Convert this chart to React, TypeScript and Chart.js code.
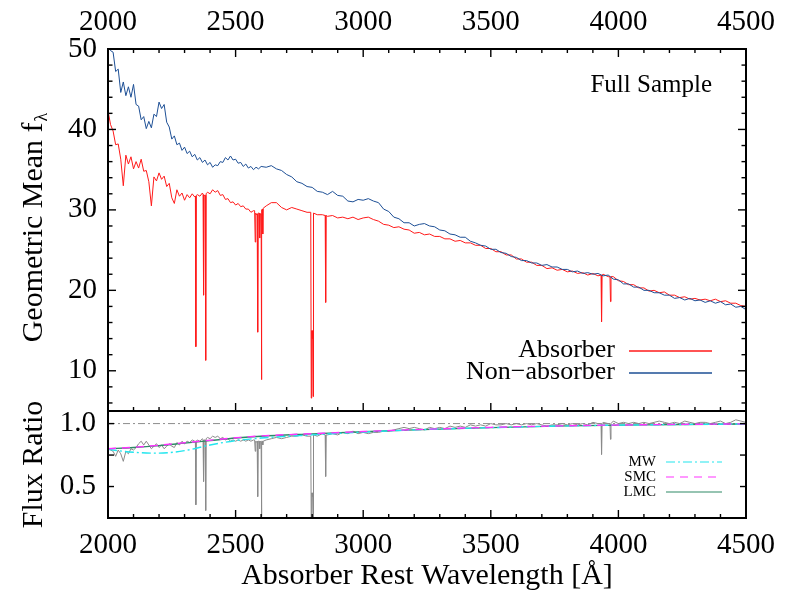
import React, { useEffect, useRef } from "react";
import { Chart, registerables } from "chart.js";

Chart.register(...registerables);

const FONT = "'Liberation Serif', 'Times New Roman', serif";
const RED = "#ff1a1a";
const BLUE = "#1d4f95";
const GRAY = "#8a8a8a";

// ---- wavelength grid (Å) ----
const gridWave = [
  2000, 2010, 2020, 2030, 2040, 2050, 2060, 2070, 2080, 2090,
  2100, 2110, 2120, 2130, 2140, 2150, 2160, 2170, 2180, 2190,
  2200, 2210, 2220, 2230, 2240, 2250, 2260, 2270, 2280, 2290,
  2300, 2310, 2320, 2330, 2340, 2350, 2360, 2370, 2380, 2390,
  2400, 2410, 2420, 2430, 2440, 2450, 2460, 2470, 2480, 2490,
  2500, 2510, 2520, 2530, 2540, 2550, 2560, 2570, 2580, 2590,
  2600,
  2620, 2640, 2660, 2680, 2700, 2720, 2740, 2760, 2780, 2800,
  2820, 2840, 2860, 2880, 2900, 2920, 2940, 2960, 2980, 3000,
  3020, 3040, 3060, 3080, 3100, 3120, 3140, 3160, 3180, 3200,
  3220, 3240, 3260, 3280, 3300, 3320, 3340, 3360, 3380, 3400,
  3420, 3440, 3460, 3480, 3500, 3520, 3540, 3560, 3580, 3600,
  3620, 3640, 3660, 3680, 3700, 3720, 3740, 3760, 3780, 3800,
  3820, 3840, 3860, 3880, 3900, 3920, 3940, 3960, 3980, 4000,
  4020, 4040, 4060, 4080, 4100, 4120, 4140, 4160, 4180, 4200,
  4220, 4240, 4260, 4280, 4300, 4320, 4340, 4360, 4380, 4400,
  4420, 4440, 4460, 4480, 4500,
];

// ---- Non-absorber geometric mean flux ----
const nonAbsorberFlux = [
  51.5, 49.8, 49.6, 47.2, 47.5, 44.6, 45.9, 44.2, 45.3, 44.0,
  45.6, 43.1, 42.9, 41.2, 41.6, 40.1, 41.0, 40.2, 41.9, 41.6,
  43.4, 42.6, 43.1, 40.9, 40.3, 38.8, 39.2, 38.1, 38.3, 37.4,
  37.8, 37.0, 37.3, 36.6, 36.9, 36.2, 36.5, 35.9, 36.2, 35.6,
  35.9, 35.3, 35.6, 35.5, 36.0, 35.9, 36.5, 36.2, 36.7, 36.2,
  36.3, 35.8, 35.9, 35.4, 35.7, 35.2, 35.4, 35.0, 35.3, 35.1,
  35.4,
  35.3, 35.5, 35.1, 34.9, 34.4, 34.1, 33.5, 33.3, 32.9, 32.8,
  32.3, 32.2, 31.9, 32.3, 31.8, 31.7, 31.1, 31.0, 31.3, 31.2,
  31.4, 31.1, 30.9, 30.1, 29.8, 29.1, 28.9, 28.4, 28.4, 28.0,
  28.2, 28.3, 28.0, 27.9, 27.5, 27.4, 27.0, 26.9, 26.6, 26.6,
  26.1, 25.9, 25.6, 25.5, 25.1, 25.1, 24.7, 24.6, 24.2, 24.1,
  23.7, 23.7, 23.4, 23.4, 23.1, 23.2, 22.9, 22.9, 22.6, 22.6,
  22.3, 22.4, 22.1, 22.2, 22.0, 22.1, 21.8, 21.9, 21.4, 21.3,
  20.8, 20.8, 20.4, 20.4, 20.0, 20.0, 19.7, 19.7, 19.4, 19.4,
  19.0, 19.1, 18.8, 19.0, 18.7, 18.8, 18.5, 18.7, 18.4, 18.6,
  18.2, 18.3, 17.9, 18.0, 17.6,
];

// ---- Absorber geometric mean flux (continuum grid) ----
const absorberFlux = [
  42.3, 40.6, 39.8, 38.1, 38.2, 36.3, 33.0, 36.8, 35.7, 36.6,
  35.1, 36.0, 35.2, 36.3, 34.8, 34.9, 33.5, 30.5, 34.1, 33.6,
  34.6, 33.8, 34.2, 32.9, 33.3, 31.5, 30.8, 32.5, 31.7, 32.1,
  31.2, 31.9, 31.5, 32.0, 31.6, 31.9, 31.7, 32.1, 31.8, 32.2,
  32.0, 32.5, 32.2, 32.4, 31.8, 31.9, 31.3, 31.4, 30.9, 31.0,
  30.6, 30.8, 30.4, 30.5, 30.1, 30.1, 29.7, 29.9, 29.4, 29.6,
  29.5,
  30.5, 30.9, 30.9, 30.3, 30.0, 30.3, 30.1, 29.9, 29.7, 14.0,
  29.4, 29.4, 29.2, 29.3, 29.0, 29.1, 28.9, 29.1, 28.8, 29.0,
  29.1, 28.8, 28.6, 28.2, 28.1, 27.8, 27.9, 27.6, 27.5, 27.1,
  27.2, 26.9, 27.0, 26.7, 26.7, 26.4, 26.4, 26.1, 26.2, 25.9,
  25.9, 25.6, 25.6, 25.2, 25.2, 24.8, 24.8, 24.4, 24.4, 23.9,
  23.9, 23.5, 23.5, 23.1, 23.1, 22.7, 22.8, 22.5, 22.6, 22.3,
  22.4, 22.1, 22.2, 21.9, 22.1, 21.8, 22.0, 21.7, 21.7, 21.2,
  21.1, 20.7, 20.7, 20.3, 20.3, 19.9, 20.0, 19.7, 19.8, 19.4,
  19.4, 19.1, 19.2, 18.9, 19.0, 18.8, 18.9, 18.7, 18.9, 18.6,
  18.7, 18.4, 18.4, 18.1, 18.0,
];

// ---- Flux ratio (absorber / non-absorber), continuum grid ----
const ratioFlux = [
  0.80, 0.79, 0.78, 0.74, 0.79, 0.76, 0.70, 0.78, 0.76, 0.80,
  0.79, 0.81, 0.84, 0.86, 0.83, 0.86, 0.83, 0.80, 0.82, 0.84,
  0.81, 0.83, 0.80, 0.82, 0.84, 0.82, 0.81, 0.85, 0.83, 0.86,
  0.84, 0.86, 0.85, 0.87, 0.86, 0.87, 0.86, 0.88, 0.87, 0.89,
  0.88, 0.90, 0.89, 0.90, 0.88, 0.89, 0.87, 0.88, 0.86, 0.87,
  0.86, 0.87, 0.86, 0.87, 0.86, 0.87, 0.86, 0.87, 0.85, 0.86,
  0.85,
  0.87, 0.88, 0.89, 0.88, 0.89, 0.90, 0.90, 0.91, 0.90, 0.42,
  0.90, 0.92, 0.91, 0.92, 0.91, 0.93, 0.92, 0.94, 0.92, 0.93,
  0.92, 0.93, 0.93, 0.94, 0.94, 0.95, 0.96, 0.97, 0.96, 0.97,
  0.96, 0.95, 0.97, 0.96, 0.97, 0.96, 0.98, 0.97, 0.98, 0.97,
  0.99, 0.98, 0.99, 0.98, 1.00, 0.99, 0.99, 1.00, 0.99, 1.00,
  0.99, 1.00, 0.99, 1.00, 0.99, 0.98, 0.99, 0.99, 1.00, 0.99,
  1.00, 0.99, 1.00, 0.99, 1.01, 1.00, 1.01, 1.00, 1.02, 1.00,
  1.01, 1.00, 1.01, 1.00, 1.01, 1.00, 1.01, 1.02, 1.01, 1.00,
  1.01, 1.00, 1.02, 1.01, 1.00, 1.01, 1.01, 1.00, 1.01, 1.02,
  1.00, 1.01, 1.03, 1.02, 1.01,
];

// ---- Absorption line profiles (FeII, MgII, MgI, CaII) ----
const lineWave = [
  2342.5, 2344.2, 2346.0,
  2372.5, 2374.5, 2376.5,
  2381.0, 2382.8, 2384.5,
  2574.5, 2576.9, 2579.0,
  2584.5, 2586.6, 2588.5,
  2592.5, 2594.5, 2596.5,
  2601.0, 2603.0,
  2605.0, 2606.5, 2608.0,
  2794.5, 2796.4, 2798.2, 2801.8, 2803.5, 2805.3,
  2851.0, 2852.9, 2854.8,
  3932.0, 3934.0, 3936.0,
  3967.0, 3969.0, 3971.0,
];
const lineAbsorberFlux = [
  31.7, 13.0, 31.8,
  31.9, 19.4, 31.8,
  31.8, 11.3, 32.0,
  29.9, 26.0, 29.6,
  29.5, 14.8, 29.6,
  29.6, 26.5, 29.5,
  8.9, 30.0,
  30.1, 27.0, 30.2,
  29.7, 6.6, 15.0, 15.0, 6.8, 29.6,
  29.3, 18.5, 29.3,
  21.9, 16.1, 21.9,
  21.7, 18.6, 21.7,
];
const lineRatio = [
  0.86, 0.355, 0.86,
  0.87, 0.54, 0.87,
  0.87, 0.31, 0.88,
  0.87, 0.78, 0.86,
  0.86, 0.42, 0.86,
  0.86, 0.80, 0.86,
  0.26, 0.86,
  0.86, 0.83, 0.86,
  0.90, 0.20, 0.45, 0.45, 0.21, 0.91,
  0.91, 0.58, 0.91,
  1.00, 0.755, 1.00,
  1.00, 0.875, 1.00,
];

// ---- Dust extinction model curves ----
const modelWave = [2000, 2100, 2200, 2300, 2400, 2500, 2600, 2800, 3000, 3200, 3500, 3800, 4100, 4500];
const mwModel = [0.795, 0.772, 0.765, 0.785, 0.83, 0.865, 0.885, 0.91, 0.932, 0.95, 0.968, 0.982, 0.99, 0.997];
const smcModel = [0.80, 0.812, 0.828, 0.848, 0.868, 0.887, 0.902, 0.92, 0.937, 0.952, 0.97, 0.983, 0.991, 0.998];
const lmcModel = [0.80, 0.81, 0.825, 0.845, 0.865, 0.885, 0.90, 0.918, 0.935, 0.95, 0.968, 0.982, 0.99, 0.997];

const unityWave = [2000, 4500];
const unityValue = [1.0, 1.0];

const topYTicks = [10, 20, 30, 40, 50];
const bottomYTicks = [0.5, 1.0];

function pairs(w: number[], v: number[]) {
  return w.map((x, i) => ({ x, y: v[i] }));
}
function merged(w1: number[], v1: number[], w2: number[], v2: number[]) {
  return pairs(w1, v1).concat(pairs(w2, v2)).sort((a, b) => a.x - b.x);
}

function seg(ctx: CanvasRenderingContext2D, x1: number, y1: number, x2: number, y2: number) {
  ctx.beginPath();
  ctx.moveTo(x1, y1);
  ctx.lineTo(x2, y2);
  ctx.stroke();
}

function drawFrame(chart: any, o: any) {
  const { ctx, chartArea } = chart;
  const { left, right, top, bottom } = chartArea;
  const xs = chart.scales.x;
  const ys = chart.scales.y;
  ctx.save();
  ctx.strokeStyle = "#000";
  ctx.lineWidth = 1.4;
  for (let w = 2000; w <= 4500; w += 100) {
    const px = xs.getPixelForValue(w);
    const len = w % 500 === 0 ? o.xMajor : o.xMinor;
    if (o.xTop) seg(ctx, px, top, px, top + len);
    if (o.xBottom) seg(ctx, px, bottom, px, bottom - len);
  }
  for (const t of o.yTicks) {
    const py = ys.getPixelForValue(t.v);
    seg(ctx, left, py, left + t.len, py);
    seg(ctx, right, py, right - t.len, py);
  }
  ctx.lineWidth = 2;
  ctx.strokeRect(left, top, right - left, bottom - top);
  ctx.restore();
}

const topYTickMarks: { v: number; len: number }[] = [];
for (let v = 6; v <= 50; v += 2) topYTickMarks.push({ v, len: v % 10 === 0 ? 8 : 4.5 });
const bottomYTickMarks = [0.5, 0.75, 1.0].map((v) => ({ v, len: 6 }));

const topDecor = {
  id: "topDecor",
  afterDraw(chart: any) {
    drawFrame(chart, { xTop: true, xBottom: true, xMajor: 8, xMinor: 4, yTicks: topYTickMarks });
    const { ctx, chartArea } = chart;
    const { right, top, bottom } = chartArea;
    ctx.save();
    ctx.fillStyle = "#000";
    ctx.font = `25px ${FONT}`;
    ctx.textAlign = "right";
    ctx.textBaseline = "alphabetic";
    ctx.fillText("Full Sample", right - 34, top + 43);
    // legend
    ctx.font = `26px ${FONT}`;
    ctx.textBaseline = "middle";
    const ds = chart.data.datasets;
    const items = [
      { text: ds[1].label, color: ds[1].borderColor, y: bottom - 61 },
      { text: ds[0].label, color: ds[0].borderColor, y: bottom - 39 },
    ];
    for (const it of items) {
      ctx.fillStyle = "#000";
      ctx.fillText(it.text, right - 131, it.y);
      ctx.strokeStyle = it.color;
      ctx.lineWidth = 1.3;
      seg(ctx, right - 117, it.y + 1, right - 34, it.y + 1);
    }
    // y title with subscript lambda
    ctx.translate(34, (top + bottom) / 2 - 2);
    ctx.rotate(-Math.PI / 2);
    ctx.fillStyle = "#000";
    ctx.textAlign = "left";
    ctx.textBaseline = "middle";
    const main = "Geometric Mean f";
    ctx.font = `30px ${FONT}`;
    const w1 = ctx.measureText(main).width;
    ctx.font = `18px ${FONT}`;
    const w2 = ctx.measureText("λ").width;
    const start = -(w1 + w2) / 2;
    ctx.font = `30px ${FONT}`;
    ctx.fillText(main, start, 0);
    ctx.font = `18px ${FONT}`;
    ctx.fillText("λ", start + w1 + 1, 8);
    ctx.restore();
  },
};

const bottomDecor = {
  id: "bottomDecor",
  afterDraw(chart: any) {
    drawFrame(chart, { xTop: false, xBottom: true, xMajor: 8, xMinor: 4, yTicks: bottomYTickMarks });
    const { ctx, chartArea } = chart;
    const { right, top, bottom } = chartArea;
    ctx.save();
    ctx.font = `15px ${FONT}`;
    ctx.textAlign = "right";
    ctx.textBaseline = "middle";
    const ds = chart.data.datasets;
    const items = [
      { d: ds[1], y: top + 51 },
      { d: ds[0], y: top + 66 },
      { d: ds[2], y: top + 81 },
    ];
    for (const it of items) {
      ctx.fillStyle = "#000";
      ctx.fillText(it.d.label, right - 90, it.y);
      ctx.strokeStyle = it.d.borderColor;
      ctx.lineWidth = 1.2;
      ctx.setLineDash(it.d.borderDash || []);
      seg(ctx, right - 80, it.y, right - 24, it.y);
      ctx.setLineDash([]);
    }
    ctx.translate(34, (top + bottom) / 2);
    ctx.rotate(-Math.PI / 2);
    ctx.fillStyle = "#000";
    ctx.font = `30px ${FONT}`;
    ctx.textAlign = "center";
    ctx.textBaseline = "middle";
    ctx.fillText("Flux Ratio", 0, 0);
    ctx.restore();
  },
};

const hiddenGrid = { display: false, drawTicks: false };
const hiddenBorder = { display: false };
const tickFont = { family: FONT, size: 29 };

export default function App() {
  const topRef = useRef<HTMLCanvasElement>(null);
  const botRef = useRef<HTMLCanvasElement>(null);

  useEffect(() => {
    const topChart = new Chart(topRef.current as HTMLCanvasElement, {
      type: "line",
      data: {
        datasets: [
          {
            label: "Non−absorber",
            data: pairs(gridWave, nonAbsorberFlux),
            borderColor: BLUE,
            borderWidth: 1,
            pointRadius: 0,
            tension: 0,
          },
          {
            label: "Absorber",
            data: merged(gridWave, absorberFlux, lineWave, lineAbsorberFlux),
            borderColor: RED,
            borderWidth: 1,
            pointRadius: 0,
            tension: 0,
          },
        ],
      },
      options: {
        responsive: false,
        animation: false,
        events: [],
        layout: { padding: 0 },
        plugins: { legend: { display: false }, tooltip: { enabled: false } },
        scales: {
          x: {
            type: "linear",
            position: "bottom",
            min: 2000,
            max: 4500,
            ticks: { display: false },
            grid: hiddenGrid,
            border: hiddenBorder,
            afterFit: (s: any) => {
              s.height = 9;
              s.paddingLeft = 0;
              s.paddingRight = 0;
            },
          },
          xTop: {
            type: "linear",
            position: "top",
            min: 2000,
            max: 4500,
            ticks: {
              stepSize: 500,
              autoSkip: false,
              maxRotation: 0,
              padding: 9,
              color: "#000",
              font: tickFont,
              callback: (v: any) => String(v),
            },
            grid: hiddenGrid,
            border: hiddenBorder,
            afterFit: (s: any) => {
              s.height = 49;
              s.paddingLeft = 0;
              s.paddingRight = 0;
            },
          },
          y: {
            type: "linear",
            position: "left",
            min: 5,
            max: 50,
            afterBuildTicks: (s: any) => {
              s.ticks = topYTicks.map((v) => ({ value: v }));
            },
            ticks: { padding: 11, color: "#000", font: tickFont, callback: (v: any) => String(v) },
            grid: hiddenGrid,
            border: hiddenBorder,
            afterFit: (s: any) => {
              s.width = 108;
              s.paddingTop = 0;
              s.paddingBottom = 0;
            },
          },
          yR: {
            type: "linear",
            position: "right",
            min: 5,
            max: 50,
            ticks: { display: false },
            grid: hiddenGrid,
            border: hiddenBorder,
            afterFit: (s: any) => {
              s.width = 43;
              s.paddingTop = 0;
              s.paddingBottom = 0;
            },
          },
        },
      } as any,
      plugins: [topDecor],
    });

    const botChart = new Chart(botRef.current as HTMLCanvasElement, {
      type: "line",
      data: {
        datasets: [
          {
            label: "SMC",
            data: pairs(modelWave, smcModel),
            borderColor: "#ff33ff",
            borderDash: [8, 6],
            borderWidth: 1.4,
            pointRadius: 0,
            cubicInterpolationMode: "monotone",
          },
          {
            label: "MW",
            data: pairs(modelWave, mwModel),
            borderColor: "#22e6ee",
            borderDash: [9, 3, 2, 3],
            borderWidth: 1.4,
            pointRadius: 0,
            cubicInterpolationMode: "monotone",
          },
          {
            label: "LMC",
            data: pairs(modelWave, lmcModel),
            borderColor: "#2e8a66",
            borderWidth: 1.4,
            pointRadius: 0,
            cubicInterpolationMode: "monotone",
          },
          {
            label: "unity",
            data: pairs(unityWave, unityValue),
            borderColor: "#8c8c8c",
            borderDash: [7, 3, 2, 3],
            borderWidth: 1,
            pointRadius: 0,
          },
          {
            label: "ratio",
            data: merged(gridWave, ratioFlux, lineWave, lineRatio),
            borderColor: GRAY,
            borderWidth: 1,
            pointRadius: 0,
            tension: 0,
          },
        ],
      },
      options: {
        responsive: false,
        animation: false,
        events: [],
        layout: { padding: { top: 10, left: 0, right: 0, bottom: 0 } },
        plugins: { legend: { display: false }, tooltip: { enabled: false } },
        scales: {
          x: {
            type: "linear",
            position: "bottom",
            min: 2000,
            max: 4500,
            ticks: {
              stepSize: 500,
              autoSkip: false,
              maxRotation: 0,
              padding: 10,
              color: "#000",
              font: tickFont,
              callback: (v: any) => String(v),
            },
            title: {
              display: true,
              text: "Absorber Rest Wavelength [Å]",
              color: "#000",
              font: { family: FONT, size: 30 },
              padding: { top: 0, bottom: 8 },
            },
            grid: hiddenGrid,
            border: hiddenBorder,
            afterFit: (s: any) => {
              s.height = 84;
              s.paddingLeft = 0;
              s.paddingRight = 0;
            },
          },
          y: {
            type: "linear",
            position: "left",
            min: 0.25,
            max: 1.1,
            afterBuildTicks: (s: any) => {
              s.ticks = bottomYTicks.map((v) => ({ value: v }));
            },
            ticks: { padding: 12, color: "#000", font: tickFont, callback: (v: any) => Number(v).toFixed(1) },
            grid: hiddenGrid,
            border: hiddenBorder,
            afterFit: (s: any) => {
              s.width = 108;
              s.paddingTop = 0;
              s.paddingBottom = 0;
            },
          },
          yR: {
            type: "linear",
            position: "right",
            min: 0.25,
            max: 1.1,
            ticks: { display: false },
            grid: hiddenGrid,
            border: hiddenBorder,
            afterFit: (s: any) => {
              s.width = 43;
              s.paddingTop = 0;
              s.paddingBottom = 0;
            },
          },
        },
      } as any,
      plugins: [bottomDecor],
    });

    return () => {
      topChart.destroy();
      botChart.destroy();
    };
  }, []);

  return (
    <div style={{ position: "fixed", left: 0, top: 0, width: 789, height: 602, background: "#fff" }}>
      <canvas
        ref={topRef}
        width={789}
        height={420}
        style={{ position: "absolute", left: 0, top: 0, width: 789, height: 420 }}
      />
      <canvas
        ref={botRef}
        width={789}
        height={201}
        style={{ position: "absolute", left: 0, top: 401, width: 789, height: 201 }}
      />
    </div>
  );
}
